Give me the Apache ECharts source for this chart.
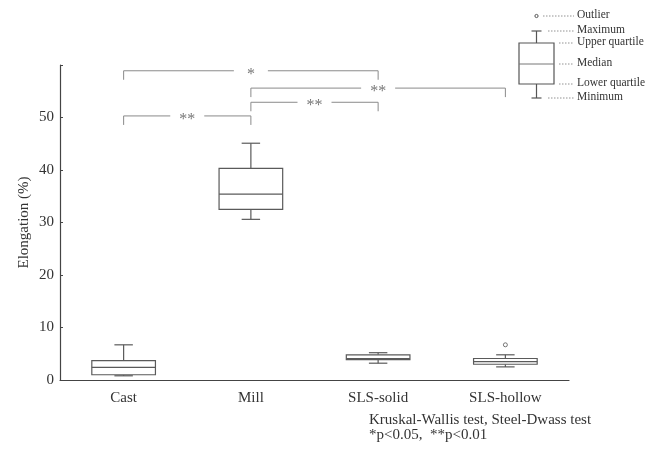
<!DOCTYPE html>
<html>
<head>
<meta charset="utf-8">
<script src="https://cdn.jsdelivr.net/npm/echarts@6/dist/echarts.min.js"></script>
<style>html,body{margin:0;padding:0;background:#fff}#c{width:658px;height:449px}</style>
</head>
<body>
<div id="c"></div>
<script>
// ---- data ----
var categories = ['Cast', 'Mill', 'SLS-solid', 'SLS-hollow'];
// [min, Q1, median, Q3, max]
var boxValues = [
  [0.8, 1.0, 2.4, 3.7, 6.7],
  [30.6, 32.5, 35.4, 40.3, 45.1],
  [3.2, 3.9, 4.1, 4.8, 5.2],
  [2.5, 3.0, 3.5, 4.1, 4.8]
];
var outliers = [[3, 6.7]];
// [fromIndex, toIndex, yValue, label]
var brackets = [
  [0, 2, 58.9, '*'],
  [1, 3, 55.6, '**'],
  [1, 2, 52.9, '**'],
  [0, 1, 50.3, '**']
];
var yTicks = { min: 0, max: 60, interval: 10 };
var noteLines = ['Kruskal-Wallis test, Steel-Dwass test', '*p<0.05,  **p<0.01'];
var keyLabels = ['Outlier', 'Maximum', 'Upper quartile', 'Median', 'Lower quartile', 'Minimum'];

var FONT = '"Liberation Serif", "DejaVu Serif", serif';
var chart = echarts.init(document.getElementById('c'), null, { renderer: 'canvas' });

function renderBox(params, api) {
  var idx = api.value(0);
  var mn = api.coord([idx, api.value(1)]);
  var q1 = api.coord([idx, api.value(2)]);
  var md = api.coord([idx, api.value(3)]);
  var q3 = api.coord([idx, api.value(4)]);
  var mx = api.coord([idx, api.value(5)]);
  var band = api.size([1, 0])[0];
  var bw = band * 0.5, cw = band * 0.145;
  var x = mn[0];
  var st = { stroke: '#5a5a5a', lineWidth: 1.2, fill: null };
  return {
    type: 'group',
    children: [
      { type: 'line', shape: { x1: x, y1: mx[1], x2: x, y2: q3[1] }, style: st },
      { type: 'line', shape: { x1: x, y1: q1[1], x2: x, y2: mn[1] }, style: st },
      { type: 'line', shape: { x1: x - cw / 2, y1: mx[1], x2: x + cw / 2, y2: mx[1] }, style: st },
      { type: 'line', shape: { x1: x - cw / 2, y1: mn[1], x2: x + cw / 2, y2: mn[1] }, style: st },
      { type: 'rect', shape: { x: x - bw / 2, y: q3[1], width: bw, height: q1[1] - q3[1] }, style: { stroke: '#5a5a5a', lineWidth: 1.2, fill: '#fff' } },
      { type: 'line', shape: { x1: x - bw / 2, y1: md[1], x2: x + bw / 2, y2: md[1] }, style: st }
    ]
  };
}

function renderBracket(params, api) {
  var a = api.coord([api.value(0), api.value(2)]);
  var b = api.coord([api.value(1), api.value(2)]);
  var label = brackets[params.dataIndex][3];
  var leg = 9, gap = 17;
  var mid = (a[0] + b[0]) / 2;
  var st = { stroke: '#8a8a8a', lineWidth: 1, fill: null };
  return {
    type: 'group',
    children: [
      { type: 'polyline', shape: { points: [[a[0], a[1] + leg], [a[0], a[1]], [mid - gap, a[1]]] }, style: st },
      { type: 'polyline', shape: { points: [[mid + gap, b[1]], [b[0], b[1]], [b[0], b[1] + leg]] }, style: st },
      { type: 'text', x: mid, y: a[1] + 4, style: { text: label, fill: '#777', font: '16px ' + FONT, align: 'center', verticalAlign: 'middle' } }
    ]
  };
}

var boxData = boxValues.map(function (v, i) { return [i].concat(v); });

// legend key (explanatory graphic)
var kx = 536.5, kb = 35;
var keyY = [16, 31, 43, 64, 84, 98];
var keyDotStart = [543, 548, 559, 559, 559, 548];
var keyChildren = [
  { type: 'circle', shape: { cx: kx, cy: keyY[0], r: 1.6 }, style: { stroke: '#555', fill: '#fff', lineWidth: 1 } },
  { type: 'line', shape: { x1: kx, y1: keyY[1], x2: kx, y2: keyY[2] }, style: { stroke: '#555', lineWidth: 1.2 } },
  { type: 'line', shape: { x1: kx, y1: keyY[4], x2: kx, y2: keyY[5] }, style: { stroke: '#555', lineWidth: 1.2 } },
  { type: 'line', shape: { x1: kx - 5, y1: keyY[1], x2: kx + 5, y2: keyY[1] }, style: { stroke: '#555', lineWidth: 1.2 } },
  { type: 'line', shape: { x1: kx - 5, y1: keyY[5], x2: kx + 5, y2: keyY[5] }, style: { stroke: '#555', lineWidth: 1.2 } },
  { type: 'rect', shape: { x: kx - kb / 2, y: keyY[2], width: kb, height: keyY[4] - keyY[2] }, style: { stroke: '#555', fill: '#fff', lineWidth: 1.2 } },
  { type: 'line', shape: { x1: kx - kb / 2, y1: keyY[3], x2: kx + kb / 2, y2: keyY[3] }, style: { stroke: '#777', lineWidth: 1 } }
];
keyLabels.forEach(function (t, i) {
  keyChildren.push({ type: 'line', shape: { x1: keyDotStart[i], y1: keyY[i], x2: 574, y2: keyY[i] }, style: { stroke: '#777', lineWidth: 0.8, lineDash: [1.5, 1.5] } });
  keyChildren.push({ type: 'text', x: 577, y: keyY[i] - 1, style: { text: t, fill: '#333', font: '11.5px ' + FONT, verticalAlign: 'middle' } });
});
noteLines.forEach(function (t, i) {
  keyChildren.push({ type: 'text', x: 369, y: 420 + i * 15, style: { text: t, fill: '#333', font: '15px ' + FONT, verticalAlign: 'middle' } });
});

chart.setOption({
  animation: false,
  backgroundColor: '#fff',
  grid: { left: 60, right: 89, top: 65, bottom: 69 },
  xAxis: {
    type: 'category',
    data: categories,
    boundaryGap: true,
    axisLine: { lineStyle: { color: '#444', width: 1.2 } },
    axisTick: { show: false },
    axisLabel: { color: '#333', fontFamily: FONT, fontSize: 15, margin: 11 },
    splitLine: { show: false }
  },
  yAxis: {
    type: 'value',
    min: yTicks.min, max: yTicks.max, interval: yTicks.interval,
    name: 'Elongation (%)',
    nameLocation: 'middle',
    nameGap: 28,
    nameMoveOverlap: false,
    nameTextStyle: { color: '#333', fontFamily: FONT, fontSize: 15 },
    axisLine: { show: true, lineStyle: { color: '#444', width: 1.2 } },
    axisTick: { show: true, inside: true, length: 3, lineStyle: { color: '#444' } },
    axisLabel: { color: '#333', fontFamily: FONT, fontSize: 15, margin: 6, formatter: function (v) { return v === 60 ? '' : v; } },
    splitLine: { show: false }
  },
  graphic: keyChildren,
  series: [
    { type: 'custom', renderItem: renderBox, data: boxData, encode: { x: 0, y: [1, 2, 3, 4, 5] }, clip: false, z: 2 },
    { type: 'scatter', data: outliers, symbol: 'circle', symbolSize: 4, itemStyle: { color: '#fff', borderColor: '#555', borderWidth: 1 }, z: 3 },
    { type: 'custom', renderItem: renderBracket, data: brackets.map(function (b) { return [b[0], b[1], b[2]]; }), encode: { x: [0, 1], y: 2 }, clip: false, z: 2 }
  ]
});
</script>
</body>
</html>
